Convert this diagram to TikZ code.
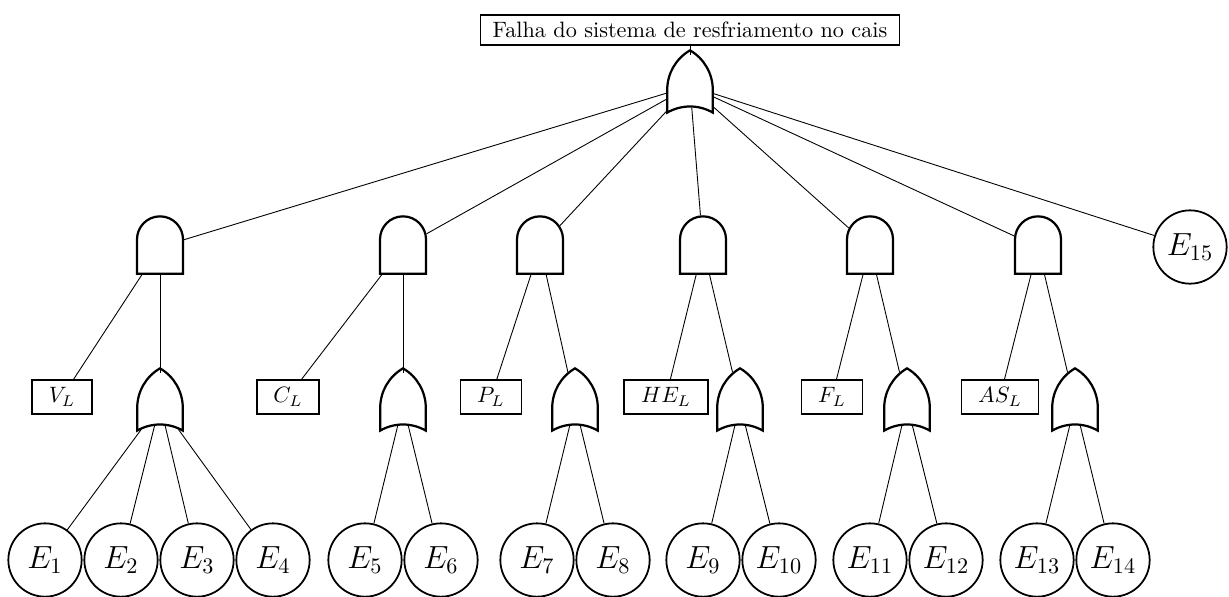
\documentclass[tikz,border=0pt]{standalone}
\usetikzlibrary{shapes.gates.logic.US}
\begin{document}
\begin{tikzpicture}[x=0.45pt,y=-0.45pt,
  gate/.style={draw, line width=1pt, rotate=90, logic gate inputs=nn},
  orgate/.style={gate, or gate US, minimum width=27pt, minimum height=20.5pt},
  andgate/.style={gate, and gate US, minimum width=25pt, minimum height=20.7pt},
  ev/.style={circle, draw, line width=0.8pt, minimum size=33pt, inner sep=0pt, font=\Large},
  lab/.style={draw, line width=0.8pt, inner xsep=7.5pt, inner ysep=3.5pt},
  conn/.style={line width=0.4pt}
]
\useasboundingbox (0,0) rectangle (1229,596);
\node[lab, inner xsep=5.5pt, inner ysep=3.2pt] (top) at (690,30) {Falha do sistema de resfriamento no cais};
\node[orgate] (g0) at (690,86) {};
% level 2
\node[andgate] (a1) at (160,247) {};
\node[andgate] (a2) at (403,247) {};
\node[andgate] (a3) at (540,247) {};
\node[andgate] (a4) at (703,247) {};
\node[andgate] (a5) at (870,247) {};
\node[andgate] (a6) at (1038,247) {};
\node[ev] (e15) at (1190,247) {$E_{15}$};
% level 3
\node[lab] (vl) at (62,397) {$V_L$};
\node[lab] (cl) at (288,397) {$C_L$};
\node[lab] (pl) at (491,397) {$P_L$};
\node[lab] (hel) at (666,397) {$HE_L$};
\node[lab] (fl) at (832,397) {$F_L$};
\node[lab] (asl) at (1000,397) {$AS_L$};
\node[orgate] (o1) at (160,404) {};
\node[orgate] (o2) at (403,404) {};
\node[orgate] (o3) at (575,404) {};
\node[orgate] (o4) at (740,404) {};
\node[orgate] (o5) at (907,404) {};
\node[orgate] (o6) at (1075,404) {};
% level 4
\node[ev] (e1) at (45,560) {$E_1$};
\node[ev] (e2) at (121,560) {$E_2$};
\node[ev] (e3) at (197,560) {$E_3$};
\node[ev] (e4) at (273,560) {$E_4$};
\node[ev] (e5) at (365,560) {$E_5$};
\node[ev] (e6) at (441,560) {$E_6$};
\node[ev] (e7) at (537,560) {$E_7$};
\node[ev] (e8) at (613,560) {$E_8$};
\node[ev] (e9) at (703,560) {$E_9$};
\node[ev] (e10) at (779,560) {$E_{10}$};
\node[ev] (e11) at (870,560) {$E_{11}$};
\node[ev] (e12) at (946,560) {$E_{12}$};
\node[ev] (e13) at (1037,560) {$E_{13}$};
\node[ev] (e14) at (1113,560) {$E_{14}$};
% connectors
\draw[conn] (top) -- (g0);
\foreach \n in {a1,a2,a3,a4,a5,a6,e15} \draw[conn] (g0) -- (\n);
\draw[conn] (a1) -- (vl); \draw[conn] (a1) -- (o1);
\draw[conn] (a2) -- (cl); \draw[conn] (a2) -- (o2);
\draw[conn] (a3) -- (pl); \draw[conn] (a3) -- (o3);
\draw[conn] (a4) -- (hel); \draw[conn] (a4) -- (o4);
\draw[conn] (a5) -- (fl); \draw[conn] (a5) -- (o5);
\draw[conn] (a6) -- (asl); \draw[conn] (a6) -- (o6);
\foreach \n in {e1,e2,e3,e4} \draw[conn] (o1) -- (\n);
\draw[conn] (o2) -- (e5); \draw[conn] (o2) -- (e6);
\draw[conn] (o3) -- (e7); \draw[conn] (o3) -- (e8);
\draw[conn] (o4) -- (e9); \draw[conn] (o4) -- (e10);
\draw[conn] (o5) -- (e11); \draw[conn] (o5) -- (e12);
\draw[conn] (o6) -- (e13); \draw[conn] (o6) -- (e14);
\end{tikzpicture}
\end{document}
